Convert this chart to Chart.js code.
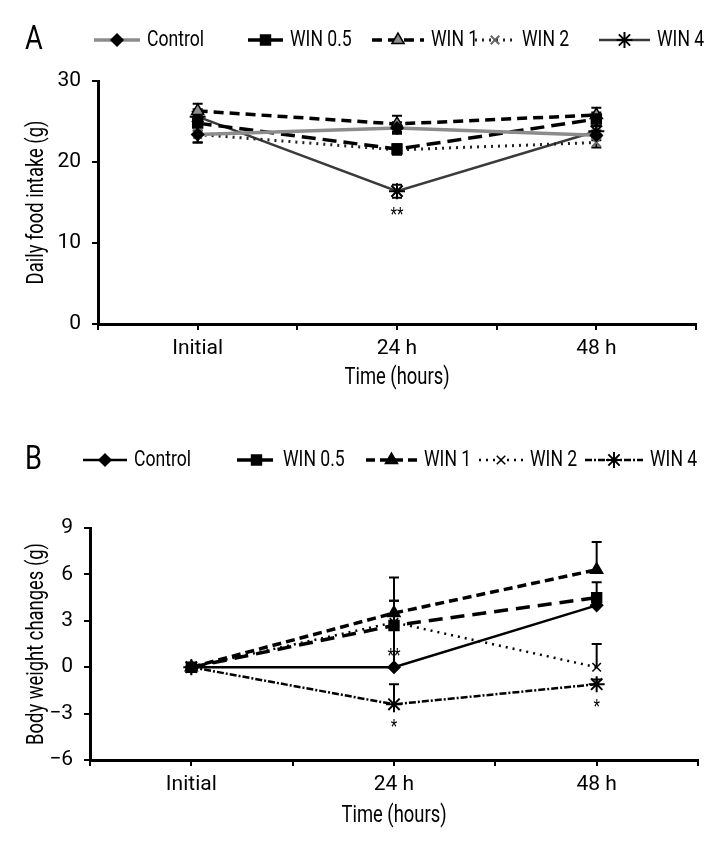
<!DOCTYPE html>
<html>
<head>
<meta charset="utf-8">
<script src="https://cdn.jsdelivr.net/npm/chart.js@4.4.1/dist/chart.umd.min.js"></script>
<style>
  html, body { margin: 0; padding: 0; background: #fff; }
  #wrap { position: relative; width: 720px; height: 849px; }
  .panel { position: absolute; left: 0; width: 720px; }
  #panelA { top: 0; height: 420px; }
  #panelB { top: 430px; height: 419px; }
</style>
</head>
<body>
<div id="wrap">
  <div class="panel" id="panelA"><canvas id="chartA" width="720" height="420"></canvas></div>
  <div class="panel" id="panelB"><canvas id="chartB" width="720" height="419"></canvas></div>
</div>
<script>
// ======================
// DATA
// ======================
const timePoints = ['Initial', '24 h', '48 h'];
const groups = ['Control', 'WIN 0.5', 'WIN 1', 'WIN 2', 'WIN 4'];

// A - daily food intake (g)
const foodControl = [23.4, 24.2, 23.3];
const foodWin05 = [24.8, 21.6, 25.3];
const foodWin1 = [26.3, 24.7, 25.8];
const foodWin2 = [23.4, 21.5, 22.4];
const foodWin4 = [25.6, 16.4, 23.8];

const foodErrControl = [1.0, 0.7, 0.6];
const foodErrWin05 = [0.9, 0.6, 0.8];
const foodErrWin1 = [0.9, 1.0, 0.9];
const foodErrWin2 = [1.0, 0.6, 0.6];
const foodErrWin4 = [0.9, 0.8, 0.6];

const foodSigWin4 = ['', '**', ''];
const foodTicks = [0, 10, 20, 30];

// B - body weight changes (g)
const weightControl = [0, 0, 4.0];
const weightWin05 = [0, 2.7, 4.5];
const weightWin1 = [0, 3.5, 6.3];
const weightWin2 = [0, 2.9, 0];
const weightWin4 = [0, -2.4, -1.1];

const weightErrControl = [0, 2.6, 0.6];
const weightErrWin05 = [0, 1.6, 1.0];
const weightErrWin1 = [0, 2.3, 1.8];
const weightErrWin2 = [0, 1.4, 1.5];
const weightErrWin4 = [0, 1.3, 0.3];

const weightSigControl = ['', '**', ''];
const weightSigWin4 = ['', '*', '*'];
const weightTicks = [-6, -3, 0, 3, 6, 9];

const FONT = "Roboto, 'DejaVu Sans Condensed', sans-serif";
const SQUEEZE = 0.8; // fake a condensed face
Chart.defaults.font.family = FONT;
Chart.defaults.font.size = 21;
Chart.defaults.color = '#000';

// ======================
// HELPERS
// ======================
function toPoints(values) {
  // time points sit on the odd positions of a 0..6 axis
  return values.map((v, i) => ({ x: 2 * i + 1, y: v }));
}

function fmtTick(v) {
  return v < 0 ? '\u2212' + Math.abs(v) : String(v);
}

function narrowText(ctx, txt, x, y, size, align, rotate) {
  ctx.save();
  ctx.font = size + 'px ' + FONT;
  ctx.fillStyle = '#000';
  ctx.textAlign = align || 'left';
  ctx.textBaseline = 'middle';
  ctx.translate(x, y);
  if (rotate) ctx.rotate(-Math.PI / 2);
  ctx.scale(SQUEEZE, 1);
  ctx.fillText(txt, 0, 0);
  ctx.restore();
}

// ======================
// PLUGINS
// ======================
const errorBars = {
  id: 'errorBars',
  beforeDatasetsDraw(chart, args, opts) {
    const { ctx, scales: { x, y } } = chart;
    ctx.save();
    ctx.strokeStyle = '#000';
    ctx.lineWidth = 2;
    chart.data.datasets.forEach((ds) => {
      (ds.errors || []).forEach((e, i) => {
        if (!e) return;
        const v = ds.data[i].y;
        const px = x.getPixelForValue(ds.data[i].x);
        const top = y.getPixelForValue(v + e);
        const bot = y.getPixelForValue(opts.plusOnly ? v : v - e);
        ctx.beginPath();
        ctx.moveTo(px, top);
        ctx.lineTo(px, bot);
        ctx.moveTo(px - 5, top);
        ctx.lineTo(px + 5, top);
        if (!opts.plusOnly) {
          ctx.moveTo(px - 5, bot);
          ctx.lineTo(px + 5, bot);
        }
        ctx.stroke();
      });
    });
    ctx.restore();
  }
};

const sigMarks = {
  id: 'sigMarks',
  afterDatasetsDraw(chart, args, opts) {
    (opts.marks || []).forEach((m) => {
      const meta = chart.getDatasetMeta(m.dataset);
      m.labels.forEach((txt, i) => {
        if (!txt) return;
        const p = meta.data[i];
        narrowText(chart.ctx, txt, p.x, p.y + m.dy, 19, 'center');
      });
    });
  }
};

// axis titles drawn by hand so they can be squeezed like the original face
const axisTitles = {
  id: 'axisTitles',
  afterDraw(chart, args, opts) {
    const { ctx, chartArea: a } = chart;
    narrowText(ctx, opts.x, (a.left + a.right) / 2, a.bottom + opts.xOffset, 23, 'center');
    narrowText(ctx, opts.y, opts.yTitleX, (a.top + a.bottom) / 2, 23, 'center', true);
  }
};

const lineLegend = {
  id: 'lineLegend',
  afterDraw(chart, args, opts) {
    const ctx = chart.ctx;
    narrowText(ctx, opts.panel, opts.panelX, opts.y, 34, 'left');

    chart.data.datasets.forEach((ds, i) => {
      const [x0, x1] = opts.slots[i];
      ctx.save();
      ctx.strokeStyle = ds.borderColor;
      ctx.lineWidth = ds.borderWidth;
      ctx.setLineDash(ds.borderDash || []);
      ctx.beginPath();
      ctx.moveTo(x0, opts.y);
      ctx.lineTo(x1, opts.y);
      ctx.stroke();
      ctx.setLineDash([]);

      ctx.fillStyle = ds.pointBackgroundColor;
      ctx.strokeStyle = ds.pointBorderColor;
      ctx.lineWidth = ds.pointBorderWidth;
      Chart.helpers.drawPoint(ctx, {
        pointStyle: ds.pointStyle,
        radius: ds.pointRadius,
        rotation: 0,
        borderWidth: ds.pointBorderWidth
      }, (x0 + x1) / 2, opts.y);
      ctx.restore();

      narrowText(ctx, ds.label, x1 + 7, opts.y, 22, 'left');
    });
  }
};

// ======================
// DATASET STYLE
// ======================
function series(label, values, errors, style) {
  return Object.assign({
    label,
    data: toPoints(values),
    errors,
    fill: false,
    tension: 0,
    borderColor: '#000',
    borderWidth: 3,
    pointBackgroundColor: '#000',
    pointBorderColor: '#000',
    pointBorderWidth: 1.5,
    pointRadius: 6
  }, style);
}

// ======================
// AXES
// ======================
function makeScales(yMin, yMax, yTicks, dims) {
  return {
    x: {
      type: 'linear',
      min: 0,
      max: 6,
      afterFit: (s) => { s.height = dims.xHeight; },
      afterBuildTicks: (s) => { s.ticks = [0, 1, 2, 3, 4, 5, 6].map(v => ({ value: v })); },
      ticks: {
        padding: 6,
        maxRotation: 0,
        autoSkip: false,
        callback: (v) => (v % 2 === 1 ? timePoints[(v - 1) / 2] : '')
      },
      grid: { drawOnChartArea: false, tickLength: 6, color: '#000', lineWidth: 2 },
      border: { color: '#000', width: 3 }
    },
    y: {
      min: yMin,
      max: yMax,
      afterFit: (s) => { s.width = dims.yWidth; },
      afterBuildTicks: (s) => { s.ticks = yTicks.map(v => ({ value: v })); },
      ticks: { padding: 11, callback: fmtTick },
      grid: { drawOnChartArea: false, tickLength: 6, color: '#000', lineWidth: 2 },
      border: { color: '#000', width: 3 }
    }
  };
}

// ======================
// PANEL A
// ======================
const chartA = new Chart(document.getElementById('chartA'), {
  type: 'line',
  data: {
    datasets: [
      series(groups[0], foodControl, foodErrControl, {
        borderColor: '#8c8c8c', borderWidth: 3.5, pointStyle: 'rectRot', pointRadius: 6
      }),
      series(groups[1], foodWin05, foodErrWin05, {
        borderDash: [14, 7], borderWidth: 3.5, pointStyle: 'rect', pointRadius: 7
      }),
      series(groups[2], foodWin1, foodErrWin1, {
        borderDash: [10, 6], borderWidth: 3.5, pointStyle: 'triangle', pointRadius: 7,
        pointBackgroundColor: '#8c8c8c'
      }),
      series(groups[3], foodWin2, foodErrWin2, {
        borderDash: [2, 5], borderWidth: 3, borderColor: '#222',
        pointStyle: 'crossRot', pointRadius: 6, pointBorderColor: '#666', pointBorderWidth: 2
      }),
      series(groups[4], foodWin4, foodErrWin4, {
        borderColor: '#3a3a3a', borderWidth: 2.5, pointStyle: 'star', pointRadius: 8, pointBorderWidth: 2
      })
    ]
  },
  options: {
    responsive: false,
    animation: false,
    layout: { padding: { left: 22, top: 81, right: 24, bottom: 27 } },
    scales: makeScales(0, 30, foodTicks, { xHeight: 69, yWidth: 76 }),
    plugins: {
      legend: { display: false },
      tooltip: { enabled: false },
      errorBars: { plusOnly: false },
      sigMarks: { marks: [{ dataset: 4, labels: foodSigWin4, dy: 24 }] },
      axisTitles: { x: 'Time (hours)', y: 'Daily food intake (g)', xOffset: 54, yTitleX: 37 },
      lineLegend: {
        panel: 'A', panelX: 25, y: 40,
        slots: [[94, 140], [248, 283], [372, 424], [475, 515], [599, 650]]
      }
    }
  },
  plugins: [errorBars, sigMarks, axisTitles, lineLegend]
});

// ======================
// PANEL B
// ======================
const chartB = new Chart(document.getElementById('chartB'), {
  type: 'line',
  data: {
    datasets: [
      series(groups[0], weightControl, weightErrControl, {
        borderWidth: 2.5, pointStyle: 'rectRot', pointRadius: 6
      }),
      series(groups[1], weightWin05, weightErrWin05, {
        borderDash: [14, 8], borderWidth: 3.5, pointStyle: 'rect', pointRadius: 7
      }),
      series(groups[2], weightWin1, weightErrWin1, {
        borderDash: [9, 5], borderWidth: 3.5, pointStyle: 'triangle', pointRadius: 7
      }),
      series(groups[3], weightWin2, weightErrWin2, {
        borderDash: [2, 5], borderWidth: 2.5,
        pointStyle: 'crossRot', pointRadius: 6, pointBorderWidth: 1.5
      }),
      series(groups[4], weightWin4, weightErrWin4, {
        borderDash: [7, 2, 2, 2], borderWidth: 2.5, pointStyle: 'star', pointRadius: 8, pointBorderWidth: 2
      })
    ]
  },
  options: {
    responsive: false,
    animation: false,
    layout: { padding: { left: 22, top: 98, right: 22, bottom: 21 } },
    scales: makeScales(-6, 9, weightTicks, { xHeight: 68, yWidth: 68 }),
    plugins: {
      legend: { display: false },
      tooltip: { enabled: false },
      errorBars: { plusOnly: true },
      sigMarks: {
        marks: [
          { dataset: 0, labels: weightSigControl, dy: -11 },
          { dataset: 4, labels: weightSigWin4, dy: 23 }
        ]
      },
      axisTitles: { x: 'Time (hours)', y: 'Body weight changes (g)', xOffset: 56, yTitleX: 37 },
      lineLegend: {
        panel: 'B', panelX: 25, y: 30,
        slots: [[83, 127], [237, 276], [366, 417], [479, 523], [585, 643]]
      }
    }
  },
  plugins: [errorBars, sigMarks, axisTitles, lineLegend]
});
</script>
</body>
</html>
